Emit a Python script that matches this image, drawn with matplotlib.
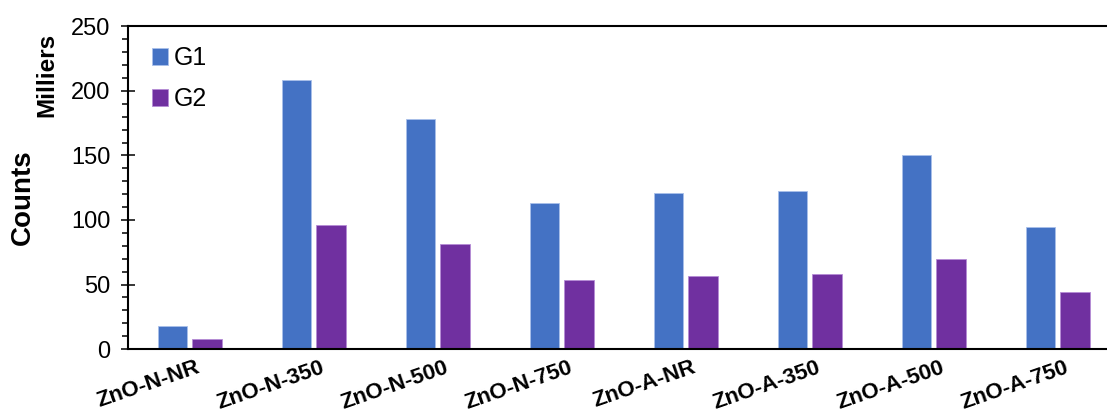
import matplotlib.pyplot as plt
import matplotlib.transforms as mtransforms
import numpy as np
from matplotlib.ticker import MultipleLocator

plt.rcParams['font.family'] = ['Liberation Sans', 'DejaVu Sans']

categories = ['ZnO-N-NR', 'ZnO-N-350', 'ZnO-N-500', 'ZnO-N-750',
              'ZnO-A-NR', 'ZnO-A-350', 'ZnO-A-500', 'ZnO-A-750']
g1 = [18.1, 208.8, 178.0, 113.4, 120.7, 122.2, 150.1, 94.3]
g2 = [8.0, 95.9, 81.2, 53.2, 56.3, 57.9, 69.5, 44.4]

fig = plt.figure(figsize=(11.07, 4.12), dpi=100)
ax = fig.add_axes([0.1156, 0.1529, 0.8961, 0.7828])

x = np.arange(len(categories))
w = 0.24
ax.bar(x - 0.14, g1, w, color='#4472C4', edgecolor='#A9C0EA', linewidth=0.6, label='G1')
ax.bar(x + 0.14, g2, w, color='#7030A0', edgecolor='#B58CD6', linewidth=0.6, label='G2')

ax.set_xlim(-0.5, len(categories) - 0.5)
ax.set_ylim(0, 250)
ax.yaxis.set_major_locator(MultipleLocator(50))
ax.yaxis.set_minor_locator(MultipleLocator(10))

ax.spines['right'].set_visible(False)
for s in ['left', 'bottom', 'top']:
    ax.spines[s].set_linewidth(1.5)

ax.tick_params(axis='y', which='major', direction='inout', length=10, width=1.1,
               labelsize=17, pad=7.5)
ax.tick_params(axis='y', which='minor', direction='out', length=4.3, width=1.1)
ax.tick_params(axis='x', length=0, pad=6)

ax.set_xticks(x)
ax.set_xticklabels(categories, rotation=19, ha='right', rotation_mode='anchor',
                   fontsize=16, fontweight='bold')
shift = mtransforms.ScaledTranslation(6 / 100, 0, fig.dpi_scale_trans)
for lab in ax.get_xticklabels():
    lab.set_transform(lab.get_transform() + shift)

ax.set_ylabel('Counts', fontsize=20, fontweight='bold')
ax.yaxis.set_label_coords(-0.093, 0.47)
fig.text(0.042, 0.818, 'Milliers', rotation=90, fontsize=17.5, fontweight='bold',
         ha='center', va='center')

ax.legend(loc='upper left', bbox_to_anchor=(0.014, 0.969), borderaxespad=0,
          frameon=False, fontsize=18, handlelength=0.64, handleheight=0.64,
          handletextpad=0.25, labelspacing=0.68)

fig.savefig('out.png', dpi=100)
